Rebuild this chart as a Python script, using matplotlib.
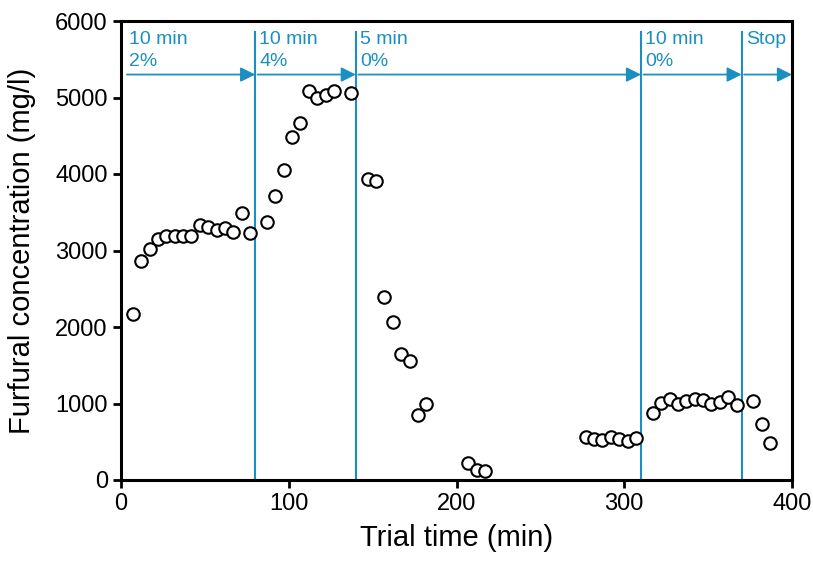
import matplotlib
matplotlib.use("Agg")
import matplotlib.pyplot as plt

plt.rcParams['font.family'] = ['Liberation Sans', 'DejaVu Sans']

time_min = [7, 12, 17, 22, 27, 32, 37, 42, 47, 52, 57, 62, 67, 72, 77,
            87, 92, 97, 102, 107, 112, 117, 122, 127, 137,
            147, 152, 157, 162, 167, 172, 177, 182,
            207, 212, 217,
            277, 282, 287, 292, 297, 302, 307,
            317, 322, 327, 332, 337, 342, 347, 352, 357, 362, 367,
            377, 382, 387]
furfural = [2166, 2859, 3020, 3150, 3186, 3186, 3186, 3186, 3333, 3307, 3268, 3294, 3246, 3486, 3229,
            3373, 3712, 4056, 4484, 4671, 5089, 4993, 5033, 5081, 5055,
            3935, 3913, 2388, 2061, 1643, 1560, 846, 998,
            226, 131, 118,
            566, 531, 523, 566, 531, 510, 545,
            880, 1002, 1059, 993, 1033, 1059, 1046, 993, 1020, 1081, 980,
            1033, 732, 488]

phase_bounds = [80, 140, 310, 370]
phase_starts = [2, 80, 140, 310, 370]
phase_ends = [80, 140, 310, 370, 400]
phase_labels = ["10 min\n2%", "10 min\n4%", "5 min\n0%", "10 min\n0%", "Stop"]

blue = "#1a8fc0"

fig = plt.figure(figsize=(8.13, 5.61), dpi=100)
ax = fig.add_axes([121/813, 1-480/561, (792-121)/813, (480-21)/561])

ax.plot(time_min, furfural, linestyle='none', marker='o', markersize=9,
        markerfacecolor='white', markeredgecolor='black', markeredgewidth=1.5, zorder=3)

for b in phase_bounds:
    ax.plot([b, b], [0, 5850], color=blue, linewidth=1.5, zorder=2)

for s, e, lab in zip(phase_starts, phase_ends, phase_labels):
    ax.annotate("", xy=(e, 5300), xytext=(s + 1.5, 5300),
                arrowprops=dict(arrowstyle='-|>', color=blue, lw=1.3,
                                mutation_scale=22, shrinkA=0, shrinkB=0),
                annotation_clip=False, zorder=2)
    ax.text(s + 2.5, 5870, lab, color=blue, fontsize=14, va='top', ha='left',
            linespacing=1.4)

ax.set_xlim(0, 400)
ax.set_ylim(0, 6000)
ax.set_xticks([0, 100, 200, 300, 400])
ax.set_yticks([0, 1000, 2000, 3000, 4000, 5000, 6000])
ax.tick_params(labelsize=17, width=2, length=6, direction='out')
for sp in ax.spines.values():
    sp.set_linewidth(2.2)
ax.set_xlabel("Trial time (min)", fontsize=21, labelpad=6)
ax.set_ylabel("Furfural concentration (mg/l)", fontsize=21, labelpad=14)

fig.savefig("out.png", dpi=100)
